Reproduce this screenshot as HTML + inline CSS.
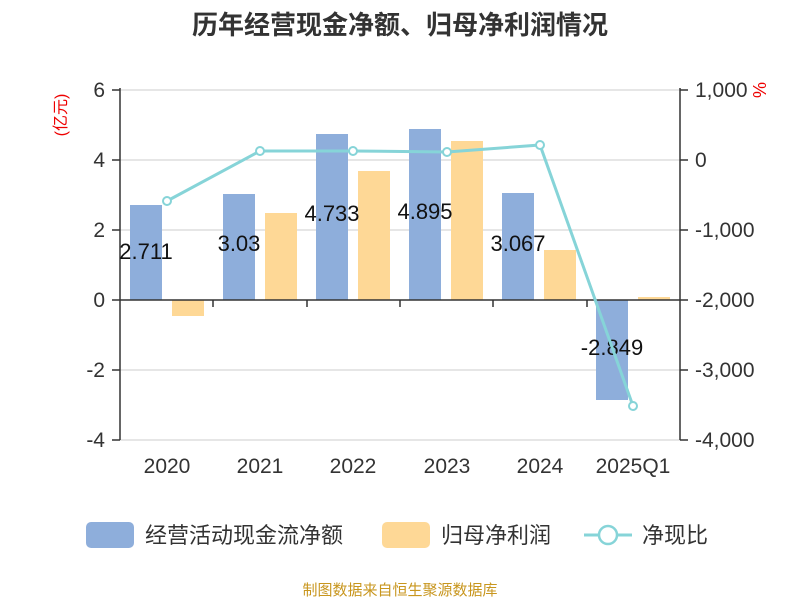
<!DOCTYPE html>
<html><head><meta charset="utf-8"><style>
body{margin:0;background:#fff;}
text{font-family:"Liberation Sans","Noto Sans CJK SC",sans-serif;}
</style></head><body>
<svg width="800" height="600" xmlns="http://www.w3.org/2000/svg">
<text x="400" y="34" text-anchor="middle" font-size="26" font-weight="bold" fill="#333">历年经营现金净额、归母净利润情况</text>
<g stroke="#ccc" stroke-width="1">
<line x1="120" y1="90" x2="680" y2="90"/><line x1="120" y1="160" x2="680" y2="160"/><line x1="120" y1="230" x2="680" y2="230"/><line x1="120" y1="370" x2="680" y2="370"/><line x1="120" y1="440" x2="680" y2="440"/>
</g>
<g fill="#8eaedb">
<rect x="130" y="205" width="32" height="95"/>
<rect x="223" y="194" width="32" height="106"/>
<rect x="316" y="134" width="32" height="166"/>
<rect x="409" y="129" width="32" height="171"/>
<rect x="502" y="193" width="32" height="107"/>
<rect x="596" y="300" width="32" height="100"/>
</g>
<g fill="#fed896">
<rect x="172" y="300" width="32" height="16"/>
<rect x="265" y="213" width="32" height="87"/>
<rect x="358" y="171" width="32" height="129"/>
<rect x="451" y="141" width="32" height="159"/>
<rect x="544" y="250" width="32" height="50"/>
<rect x="638" y="297" width="32" height="3"/>
</g>
<g stroke="#333" stroke-width="1.5">
<line x1="120" y1="88" x2="120" y2="440"/><line x1="680" y1="88" x2="680" y2="440"/>
<line x1="120" y1="300" x2="680" y2="300"/>
<line x1="112" y1="90" x2="120" y2="90"/><line x1="112" y1="160" x2="120" y2="160"/><line x1="112" y1="230" x2="120" y2="230"/><line x1="112" y1="300" x2="120" y2="300"/><line x1="112" y1="370" x2="120" y2="370"/><line x1="112" y1="440" x2="120" y2="440"/>
<line x1="680" y1="90" x2="688" y2="90"/><line x1="680" y1="160" x2="688" y2="160"/><line x1="680" y1="230" x2="688" y2="230"/><line x1="680" y1="300" x2="688" y2="300"/><line x1="680" y1="370" x2="688" y2="370"/><line x1="680" y1="440" x2="688" y2="440"/>
<line x1="213" y1="300" x2="213" y2="307"/><line x1="307" y1="300" x2="307" y2="307"/><line x1="400" y1="300" x2="400" y2="307"/><line x1="493" y1="300" x2="493" y2="307"/><line x1="587" y1="300" x2="587" y2="307"/>
</g>
<g font-size="21" fill="#333" text-anchor="end">
<text x="105" y="97">6</text><text x="105" y="167">4</text><text x="105" y="237">2</text><text x="105" y="307">0</text><text x="105" y="377">-2</text><text x="105" y="447">-4</text>
</g>
<g font-size="21" fill="#333" text-anchor="start">
<text x="695" y="97">1,000</text><text x="695" y="167">0</text><text x="695" y="237">-1,000</text><text x="695" y="307">-2,000</text><text x="695" y="377">-3,000</text><text x="695" y="447">-4,000</text>
</g>
<text transform="translate(66,115) rotate(-90)" text-anchor="middle" font-size="16" fill="#e00">(亿元)</text>
<text transform="translate(753,90) rotate(90)" text-anchor="middle" font-size="18" fill="#e00">%</text>
<g font-size="21" fill="#333" text-anchor="middle">
<text x="167" y="473">2020</text><text x="260" y="473">2021</text><text x="353" y="473">2022</text><text x="447" y="473">2023</text><text x="540" y="473">2024</text><text x="633" y="473">2025Q1</text>
</g>
<g font-size="22" fill="#111" text-anchor="middle">
<text x="146" y="259">2.711</text><text x="239" y="251">3.03</text><text x="332" y="221">4.733</text><text x="425" y="219">4.895</text><text x="518" y="251">3.067</text><text x="612" y="355">-2.849</text>
</g>
<polyline points="167,201 260,151 353,151 447,152 540,145 633,406" fill="none" stroke="#86d4d8" stroke-width="3"/>
<g fill="#fff" stroke="#86d4d8" stroke-width="2">
<circle cx="167" cy="201" r="4"/><circle cx="260" cy="151" r="4"/><circle cx="353" cy="151" r="4"/><circle cx="447" cy="152" r="4"/><circle cx="540" cy="145" r="4"/><circle cx="633" cy="406" r="4"/>
</g>
<rect x="86" y="522" width="48" height="26" rx="5" fill="#8eaedb"/>
<text x="145" y="543" font-size="22" fill="#333">经营活动现金流净额</text>
<rect x="382" y="522" width="48" height="26" rx="5" fill="#fed896"/>
<text x="441" y="543" font-size="22" fill="#333">归母净利润</text>
<line x1="584" y1="535" x2="632" y2="535" stroke="#86d4d8" stroke-width="3"/>
<circle cx="608" cy="535" r="9" fill="#fff" stroke="#86d4d8" stroke-width="2.5"/>
<text x="642" y="543" font-size="22" fill="#333">净现比</text>
<text x="400" y="595" text-anchor="middle" font-size="15" fill="#c8961e">制图数据来自恒生聚源数据库</text>
</svg>
</body></html>
